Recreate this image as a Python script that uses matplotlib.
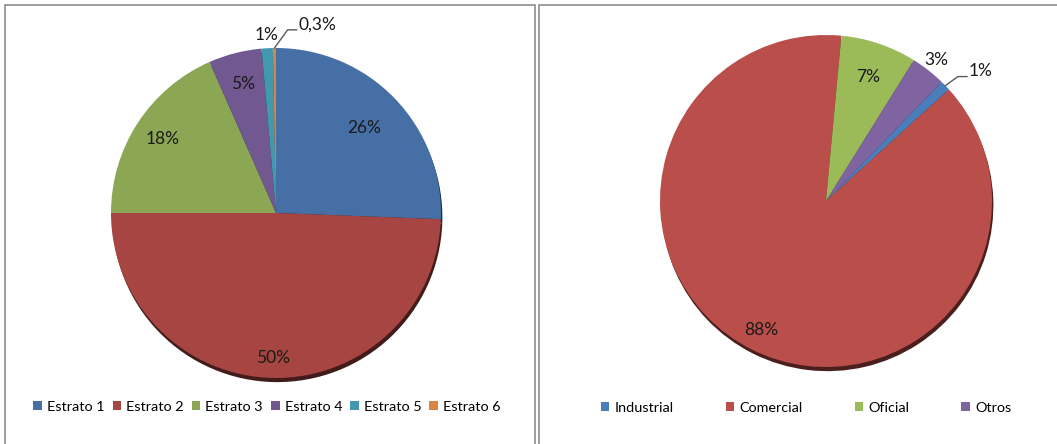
import numpy as np
import matplotlib.pyplot as plt
from matplotlib.patches import Patch, Rectangle

plt.rcParams['font.family'] = ['Lato', 'DejaVu Sans']

# datos - estratos
estratos = ['Estrato 1', 'Estrato 2', 'Estrato 3', 'Estrato 4', 'Estrato 5', 'Estrato 6']
valores_estratos = [25.6, 49.4, 18.4, 5.2, 1.1, 0.3]
etiquetas_estratos = ['26%', '50%', '18%', '5%', '1%', '0,3%']
colores_estratos = ['#4670A5', '#A64541', '#8BA753', '#715891', '#4198AF', '#DB843D']

# datos - sectores
sectores = ['Industrial', 'Comercial', 'Oficial', 'Otros']
valores_sectores = [1.0, 88.2, 7.4, 3.4]
etiquetas_sectores = ['1%', '88%', '7%', '3%']
colores_sectores = ['#4A7EBB', '#BA4E4A', '#9BBB59', '#8064A2']

W, H = 1057, 444
fig = plt.figure(figsize=(W / 100, H / 100), dpi=100)

# marcos de los dos paneles
fig.patches.append(Rectangle((5 / W, -0.01), 530 / W, (H - 5) / H + 0.01, transform=fig.transFigure,
                             fill=False, edgecolor='#8c8c8c', lw=1.2))
fig.patches.append(Rectangle((539 / W, -0.01), 520 / W, (H - 5) / H + 0.01, transform=fig.transFigure,
                             fill=False, edgecolor='#8c8c8c', lw=1.2))


def hacer_torta(cx, cy, r, valores, colores, etiquetas, dist, inicio, lider):
    caja = 400
    ax = fig.add_axes([(cx - caja / 2) / W, (H - cy - caja / 2) / H, caja / W, caja / H])
    lim = caja / 2 / r
    wedges, _ = ax.pie(valores, colors=colores, startangle=inicio, counterclock=False,
                       wedgeprops=dict(linewidth=0),
                       shadow=dict(ox=0.006, oy=-0.018, shade=0.6, alpha=1))
    ax.set_xlim(-lim, lim)
    ax.set_ylim(-lim, lim)
    ax.set_aspect('auto')
    ax.axis('off')
    for w, txt, d in zip(wedges, etiquetas, dist):
        m = np.deg2rad((w.theta1 + w.theta2) / 2)
        if d is None:
            # etiqueta con linea guia
            x0, y0 = np.cos(m), np.sin(m)
            dx, dy, largo = lider
            ax.plot([x0, x0 + dx, x0 + dx + largo], [y0, y0 + dy, y0 + dy],
                    color='#5a5a5a', lw=1)
            ax.text(x0 + dx + largo + 0.01, y0 + dy - 0.015, txt, fontsize=12.5,
                    ha='left', va='bottom', color='#1a1a1a')
        else:
            ax.text(d * np.cos(m), d * np.sin(m), txt, fontsize=12.5,
                    ha='center', va='center', color='#1a1a1a')
    return ax


hacer_torta(276, 213, 165, valores_estratos, colores_estratos, etiquetas_estratos,
            [0.74, 0.88, 0.82, 0.81, 1.08, None], 90, (0.08, 0.11, 0.055))
hacer_torta(826, 201, 166, valores_sectores, colores_sectores, etiquetas_sectores,
            [None, 0.87, 0.79, 1.08], 90 - 44.2, (0.075, 0.055, 0.055))

h1 = [Patch(facecolor=c) for c in colores_estratos]
fig.legend(h1, estratos, loc='center', bbox_to_anchor=(267 / W, 37 / H), ncol=6, frameon=False,
           fontsize=10.4, handlelength=0.6, handleheight=0.6, handletextpad=0.35,
           columnspacing=0.55)
h2 = [Patch(facecolor=c) for c in colores_sectores]
fig.legend(h2, sectores, loc='center', bbox_to_anchor=(806 / W, 36 / H), ncol=4, frameon=False,
           fontsize=10.4, handlelength=0.6, handleheight=0.6, handletextpad=0.35,
           columnspacing=3.6)

fig.savefig('out.png', dpi=100)
